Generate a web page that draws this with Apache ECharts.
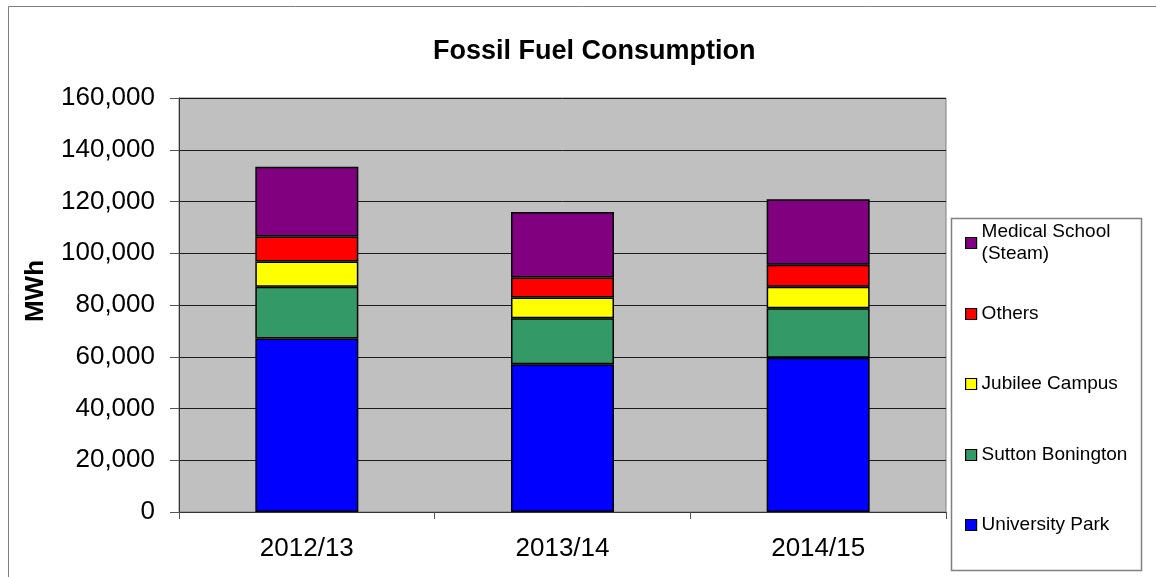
<!DOCTYPE html>
<html>
<head>
<meta charset="utf-8">
<title>Fossil Fuel Consumption</title>
<script src="https://cdn.jsdelivr.net/npm/echarts@6/dist/echarts.min.js"></script>
<style>
    html, body { margin: 0; padding: 0; background: #fff; }
    #el { width: 1156px; height: 577px; }
</style>
</head>
<body>
<div id="el"></div>
<script>
// 数据
const years = ['2012/13', '2013/14', '2014/15'];
const universityPark = [67100, 57100, 59600];
const suttonBonington = [20000, 17800, 19100];
const jubileeCampus = [9700, 8000, 8400];
const others = [9700, 7700, 8500];
const medicalSchool = [26900, 25300, 25300];

// 系列 (从下往上堆叠)
const seriesList = [
    { name: 'University Park', data: universityPark, color: '#0000FF', legendY: 525 },
    { name: 'Sutton Bonington', data: suttonBonington, color: '#339966', legendY: 455 },
    { name: 'Jubilee Campus', data: jubileeCampus, color: '#FFFF00', legendY: 384 },
    { name: 'Others', data: others, color: '#FF0000', legendY: 314 },
    { name: 'Medical School (Steam)', data: medicalSchool, color: '#800080', legendY: 243 }
];

const font = '"Liberation Sans", Arial, sans-serif';

let chart = echarts.init(document.getElementById('el'));

// 图例：每一项单独定位
const legends = seriesList.map(s => {
    const multi = s.name === 'Medical School (Steam)';
    return {
        data: [s.name],
        orient: 'vertical',
        left: 965,
        top: multi ? s.legendY - 33 : s.legendY - 11,
        padding: 0,
        itemWidth: 11,
        itemHeight: 11,
        itemGap: 0,
        icon: 'rect',
        itemStyle: { borderColor: '#000', borderWidth: 1.2 },
        formatter: name => multi ? 'Medical School\n(Steam)' : name,
        textStyle: {
            fontFamily: font,
            fontSize: 19,
            color: '#000',
            lineHeight: 22,
            padding: multi ? [22, 0, 0, 0] : 0
        }
    };
});

chart.setOption({
    animation: false,
    backgroundColor: '#fff',
    title: {
        text: 'Fossil Fuel Consumption',
        left: 433,
        top: 38,
        padding: 0,
        textStyle: {
            fontFamily: font,
            fontSize: 27,
            fontWeight: 'bold',
            color: '#000'
        }
    },
    graphic: [
        {
            type: 'rect',
            silent: true,
            shape: { x: 8.5, y: 6.5, width: 1200, height: 620 },
            style: { fill: 'none', stroke: '#808080', lineWidth: 1 }
        },
        {
            type: 'rect',
            silent: true,
            shape: { x: 951.5, y: 218.5, width: 190, height: 352 },
            style: { fill: '#fff', stroke: '#808080', lineWidth: 1.5 }
        }
    ],
    legend: legends,
    grid: {
        left: 179,
        right: 210,
        top: 98,
        bottom: 65,
        show: true,
        backgroundColor: '#C0C0C0',
        borderColor: '#808080',
        borderWidth: 1
    },
    xAxis: {
        type: 'category',
        data: years,
        axisLine: { lineStyle: { color: '#333', width: 1 } },
        axisTick: { show: true, length: 7, interval: 0, lineStyle: { color: '#555' } },
        axisLabel: {
            fontFamily: font,
            fontSize: 26,
            color: '#000',
            margin: 24
        }
    },
    yAxis: {
        type: 'value',
        min: 0,
        max: 160000,
        interval: 20000,
        name: 'MWh',
        nameLocation: 'middle',
        nameRotate: 90,
        nameGap: 130,
        nameTextStyle: {
            fontFamily: font,
            fontSize: 26,
            fontWeight: 'bold',
            color: '#000',
            padding: [0, 0, 0, 28]
        },
        axisLine: { show: true, lineStyle: { color: '#333', width: 1 } },
        axisTick: { show: true, length: 9, lineStyle: { color: '#555' } },
        axisLabel: {
            fontFamily: font,
            fontSize: 26,
            color: '#000',
            margin: 24,
            formatter: v => v.toLocaleString('en-US')
        },
        splitLine: { show: true, lineStyle: { color: '#1a1a1a', width: 1 } }
    },
    series: seriesList.map(s => ({
        name: s.name,
        type: 'bar',
        stack: 'total',
        barWidth: 103,
        data: s.data,
        itemStyle: {
            color: s.color,
            borderColor: '#000',
            borderWidth: 1.5
        }
    }))
});

window.addEventListener('resize', function() {
    chart.resize();
});
</script>
</body>
</html>
